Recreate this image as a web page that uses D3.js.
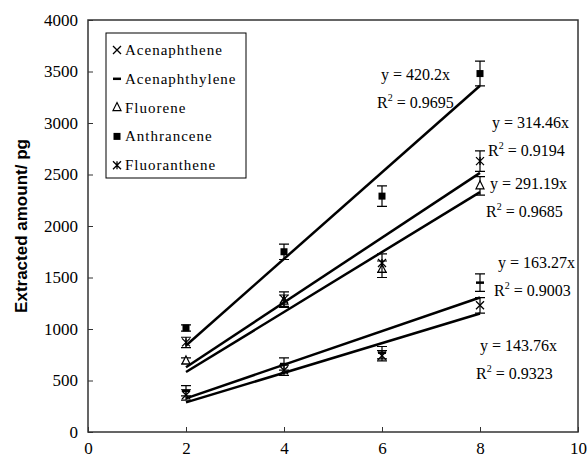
<!DOCTYPE html>
<html>
<head>
<meta charset="utf-8">
<script src="https://cdn.jsdelivr.net/npm/d3@7"></script>
<style>
  body { margin: 0; background: #fff; }
  svg text { fill: #000; font-family: "Liberation Serif", "Times New Roman", serif; }
</style>
</head>
<body>
<div id="chart"></div>
<script>
// Data
var times = [2, 4, 6, 8];
var seriesNames = ["Acenaphthene", "Acenaphthylene", "Fluorene", "Anthrancene", "Fluoranthene"];
var acenaphthene = [360, 600, 740, 1230];
var acenaphtheneErr = [50, 50, 50, 75];
var acenaphthylene = [400, 660, 770, 1450];
var acenaphthyleneErr = [50, 60, 60, 85];
var fluorene = [690, 1270, 1580, 2390];
var fluoreneErr = [30, 60, 80, 90];
var anthracene = [1010, 1750, 2290, 3480];
var anthraceneErr = [30, 75, 100, 120];
var fluoranthene = [870, 1290, 1640, 2630];
var fluorantheneErr = [50, 70, 90, 100];
var slopes = [143.76, 163.27, 291.19, 420.2, 314.46];
var rSquared = ["0.9323", "0.9003", "0.9685", "0.9695", "0.9194"];
var xTicks = [0, 2, 4, 6, 8, 10];
var yTicks = [0, 500, 1000, 1500, 2000, 2500, 3000, 3500, 4000];

var svgWidth = 587;
var svgHeight = 457;
var margins = { top: 20, right: 9, bottom: 25, left: 88 };
var width = svgWidth - margins.left - margins.right;
var height = svgHeight - margins.top - margins.bottom;

var svg = d3.select("#chart")
            .append("svg")
            .attr("width", svgWidth)
            .attr("height", svgHeight);

var chartGroup = svg.append("g")
                    .attr("transform", `translate(${margins.left}, ${margins.top})`);

var xScale = d3.scaleLinear().domain([0, 10]).range([0, width]);
var yScale = d3.scaleLinear().domain([0, 4000]).range([height, 0]);

var serif = "Liberation Serif";

// Axes with inward ticks, plain number labels
var bottomAxis = d3.axisBottom(xScale).tickValues(xTicks).tickFormat(d3.format("d"))
    .tickSizeInner(-5).tickSizeOuter(0).tickPadding(10);
var leftAxis = d3.axisLeft(yScale).tickValues(yTicks).tickFormat(d3.format("d"))
    .tickSizeInner(-5).tickSizeOuter(0).tickPadding(10);

var xAxis = chartGroup.append("g")
    .attr("transform", `translate(0,${height})`)
    .call(bottomAxis);
var yAxis = chartGroup.append("g").call(leftAxis);

[xAxis, yAxis].forEach(function(ax) {
    ax.attr("font-family", serif).attr("font-size", 17);
    ax.select(".domain").remove();
    ax.selectAll("line").attr("stroke", "#333").attr("stroke-width", 1);
    ax.selectAll("text").attr("fill", "#000");
});

// Plot frame
chartGroup.append("rect")
    .attr("x", 0).attr("y", 0)
    .attr("width", width).attr("height", height)
    .attr("fill", "none")
    .attr("stroke", "#333")
    .attr("stroke-width", 1.5);

// Axis title
svg.append("text")
    .attr("transform", `translate(27, ${margins.top + height / 2}) rotate(-90)`)
    .attr("text-anchor", "middle")
    .style("font-family", "'Liberation Sans', Arial, sans-serif")
    .style("font-weight", "bold")
    .style("font-size", "17px")
    .text("Extracted amount/ pg");

// Marker drawing
function drawMarker(g, kind, cx, cy) {
    var s = 4;
    if (kind === "cross") {
        g.append("path")
         .attr("d", `M${cx - s},${cy - s}L${cx + s},${cy + s}M${cx - s},${cy + s}L${cx + s},${cy - s}`)
         .attr("stroke", "#000").attr("stroke-width", 1.3).attr("fill", "none");
    } else if (kind === "dash") {
        g.append("path")
         .attr("d", `M${cx - s},${cy}L${cx + s},${cy}`)
         .attr("stroke", "#000").attr("stroke-width", 2.5).attr("fill", "none");
    } else if (kind === "triangle") {
        g.append("path")
         .attr("d", `M${cx},${cy - s - 1}L${cx + s},${cy + s - 1}L${cx - s},${cy + s - 1}Z`)
         .attr("stroke", "#000").attr("stroke-width", 1.2).attr("fill", "#fff");
    } else if (kind === "square") {
        g.append("rect")
         .attr("x", cx - 3.5).attr("y", cy - 3.5)
         .attr("width", 7).attr("height", 7)
         .attr("fill", "#000");
    } else if (kind === "star") {
        g.append("path")
         .attr("d", `M${cx - s},${cy - s}L${cx + s},${cy + s}M${cx - s},${cy + s}L${cx + s},${cy - s}M${cx},${cy - s}L${cx},${cy + s}`)
         .attr("stroke", "#000").attr("stroke-width", 1.3).attr("fill", "none");
    }
}

var series = [
    { name: seriesNames[0], values: acenaphthene, err: acenaphtheneErr, marker: "cross", slope: slopes[0], r2: rSquared[0] },
    { name: seriesNames[1], values: acenaphthylene, err: acenaphthyleneErr, marker: "dash", slope: slopes[1], r2: rSquared[1] },
    { name: seriesNames[2], values: fluorene, err: fluoreneErr, marker: "triangle", slope: slopes[2], r2: rSquared[2] },
    { name: seriesNames[3], values: anthracene, err: anthraceneErr, marker: "square", slope: slopes[3], r2: rSquared[3] },
    { name: seriesNames[4], values: fluoranthene, err: fluorantheneErr, marker: "star", slope: slopes[4], r2: rSquared[4] }
];

// Error bars and markers
var pointsGroup = chartGroup.append("g");
series.forEach(function(s) {
    s.values.forEach(function(v, i) {
        var cx = xScale(times[i]);
        var top = yScale(v + s.err[i]);
        var bot = yScale(v - s.err[i]);
        pointsGroup.append("path")
            .attr("d", `M${cx},${top}L${cx},${bot}M${cx - 5},${top}L${cx + 5},${top}M${cx - 5},${bot}L${cx + 5},${bot}`)
            .attr("stroke", "#000").attr("stroke-width", 1.2).attr("fill", "none");
        drawMarker(pointsGroup, s.marker, cx, yScale(v));
    });
});

// Trend lines y = slope * x, drawn over the data range
var lineGen = d3.line().x(d => xScale(d[0])).y(d => yScale(d[1]));
series.forEach(function(s) {
    var first = d3.min(times), last = d3.max(times);
    chartGroup.append("path")
        .attr("d", lineGen([[first, s.slope * first], [last, s.slope * last]]))
        .attr("stroke", "#000")
        .attr("stroke-width", 2.5)
        .attr("fill", "none");
});

// Equation labels (page coordinates)
var labelPos = [
    { x: 480, y: 351 },
    { x: 498, y: 268 },
    { x: 490, y: 189 },
    { x: 381, y: 80 },
    { x: 492, y: 128 }
];
series.forEach(function(s, i) {
    var p = labelPos[i];
    svg.append("text")
        .attr("x", p.x).attr("y", p.y)
        .attr("font-size", 16)
        .text(`y = ${s.slope}x`);
    var r = svg.append("text")
        .attr("x", p.x - 4).attr("y", p.y + 28)
        .attr("font-size", 16);
    r.append("tspan").text("R");
    r.append("tspan").attr("dy", -7).attr("font-size", 10).text("2");
    r.append("tspan").attr("dy", 7).text(" = " + s.r2);
});

// Legend
var legend = svg.append("g");
legend.append("rect")
    .attr("x", 106).attr("y", 33)
    .attr("width", 140).attr("height", 145)
    .attr("fill", "#fff")
    .attr("stroke", "#000")
    .attr("stroke-width", 1);

series.forEach(function(s, i) {
    var cy = 50 + i * 28.8;
    drawMarker(legend, s.marker, 117, cy);
    legend.append("text")
        .attr("x", 125).attr("y", cy + 5)
        .attr("font-size", 15)
        .attr("letter-spacing", 1)
        .text(s.name);
});
</script>
</body>
</html>
